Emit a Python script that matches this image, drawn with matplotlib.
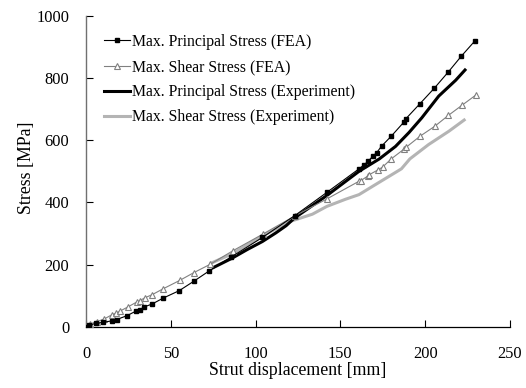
import matplotlib
matplotlib.use("Agg")
import matplotlib.pyplot as plt

# FEA maximum principal stress
fea_p_x = [0, 2, 6, 10, 15.5, 18, 24, 29.4, 31.8, 34, 39, 45.5, 55, 63.5, 72.5, 85.5,
           104, 123, 142, 161, 164, 166.5, 169, 171.4, 174.3, 180, 187.4, 188.6, 197,
           205.5, 213.7, 221.4, 229.4]
fea_p_y = [0, 5, 11, 14, 19, 23, 35, 50, 54, 63, 73, 92, 116, 146, 179, 224,
           287, 357, 432, 508, 521, 533, 548, 560, 581, 613, 658, 669, 718,
           768, 820, 871, 920]

# FEA maximum shear stress
fea_s_x = [0, 2.4, 6.3, 10.8, 15.5, 17.5, 20, 24.5, 29.8, 31.8, 34.7, 39, 45.5, 55.3,
           63.6, 73.3, 86.5, 104.3, 123, 142, 161, 162, 166, 167, 172, 175, 180, 187.7,
           188.7, 197, 205.7, 213.7, 221.6, 229.8]
fea_s_y = [0, 9, 16, 25, 39, 43, 50, 63, 79, 84, 93, 103, 122, 149,
           174, 201, 244, 298, 356, 411, 468, 470, 484, 489, 504, 514, 540, 572,
           577, 613, 645, 680, 712, 745]

# Experiment maximum principal stress
exp_p_x = [75, 86, 95, 104, 112, 118, 123, 142, 161, 173, 182.5, 190.5, 198, 208, 218, 223.5]
exp_p_y = [190, 220, 248, 274, 302, 325, 350, 422, 500, 540, 580, 625, 672, 742, 793, 826]

# Experiment maximum shear stress
exp_s_x = [74, 86, 104, 120, 133.5, 142, 153, 161, 170, 183, 186, 191, 202, 214, 223]
exp_s_y = [205, 234, 292, 338, 362, 387, 410, 425, 455, 498, 508, 540, 586, 629, 665]

labels = ["Max. Principal Stress (FEA)", "Max. Shear Stress (FEA)",
          "Max. Principal Stress (Experiment)", "Max. Shear Stress (Experiment)"]
x_ticks = [0, 50, 100, 150, 200, 250]
y_ticks = [0, 200, 400, 600, 800, 1000]

plt.rcParams['font.family'] = ['Liberation Serif', 'DejaVu Serif']
plt.rcParams['font.size'] = 11.5

fig = plt.figure(figsize=(5.26, 3.88), dpi=100)
ax = fig.add_axes([0.1635, 0.158, 0.806, 0.801])

ax.plot(exp_s_x, exp_s_y, color='#b4b4b4', lw=2.2, label=labels[3], zorder=2)
ax.plot(exp_p_x, exp_p_y, color='black', lw=2.2, label=labels[2], zorder=3)
ax.plot(fea_s_x, fea_s_y, color='#808080', lw=0.8, marker='^', ms=4.5,
        mfc='white', mec='#808080', mew=0.8, label=labels[1], zorder=4)
ax.plot(fea_p_x, fea_p_y, color='black', lw=0.8, marker='s', ms=3.5,
        mfc='black', mec='black', label=labels[0], zorder=5)

ax.set_xlim(0, 250)
ax.set_ylim(0, 1000)
ax.set_xticks(x_ticks)
ax.set_yticks(y_ticks)
ax.tick_params(direction='in', length=5, width=0.8, labelsize=11.8)
ax.tick_params(axis='y', pad=12)
ax.tick_params(axis='x', pad=14)
for s in ['top', 'right']:
    ax.spines[s].set_visible(False)
ax.spines['left'].set_color('#707070')
ax.spines['left'].set_linewidth(1.0)
ax.spines['bottom'].set_linewidth(0.9)

ax.set_xlabel("Strut displacement [mm]", fontsize=12.8, labelpad=0)
ax.set_ylabel("Stress [MPa]", fontsize=12.8)
ax.yaxis.set_label_coords(-0.12, 0.511)

handles, labs = ax.get_legend_handles_labels()
order = [3, 2, 1, 0]
ax.legend([handles[i] for i in order], [labs[i] for i in order],
          loc='upper left', bbox_to_anchor=(0.042, 0.942), frameon=False,
          fontsize=11.3, handlelength=1.65, handletextpad=0.12, labelspacing=0.58,
          borderaxespad=0.0, borderpad=0.0)

fig.savefig("out.png", dpi=100)
